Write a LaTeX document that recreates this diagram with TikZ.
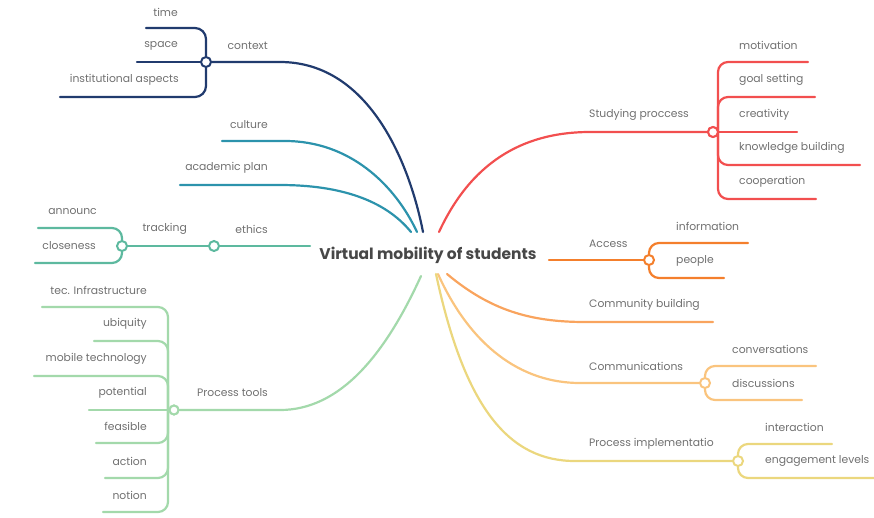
\documentclass[tikz,border=0pt]{standalone}
\usepackage{fontspec}
\setmainfont{Poppins}
\begin{document}
\begin{tikzpicture}[x=1pt,y=-1pt,
  lbl/.style={font=\fontsize{10.8}{12}\selectfont, text=txtgray, inner sep=0pt},
  br/.style={line width=2.2pt, line cap=round},
  hub/.style={circle, draw, fill=white, line width=2pt, minimum size=10pt, inner sep=0pt}]
\definecolor{txtgray}{HTML}{707070}
\definecolor{cnavy}{HTML}{213B6E}
\definecolor{cteal}{HTML}{2C93AC}
\definecolor{csea}{HTML}{5DB99F}
\definecolor{cgreen}{HTML}{A3D9AB}
\definecolor{cred}{HTML}{F24F4F}
\definecolor{corange}{HTML}{F47F2C}
\definecolor{corange2}{HTML}{F9A45E}
\definecolor{corange3}{HTML}{FAC47E}
\definecolor{cyellow}{HTML}{EBD77E}
\useasboundingbox (0,0) rectangle (874,517);

% center
\node[font=\fontsize{15.5}{17}\selectfont\bfseries, text=black!72, inner sep=0pt] (center) at (428,255) {Virtual mobility of students};

% ---------------- context
\node[hub, draw=cnavy] (ctx) at (206,62) {};
\coordinate (ctxs) at (423,232);
\draw[br, cnavy] (ctxs) .. controls (410,165) and (370,62) .. (280,62) -- (ctx);
\node[lbl, anchor=east] (ctxl) at (268,46) {context};
\coordinate (t1) at (146,28);
\coordinate (t2) at (137,62);
\coordinate (t3) at (60,97);
\draw[br, cnavy, rounded corners=11pt] (t1) -| (ctx.north);
\draw[br, cnavy] (t2) -- (ctx.west);
\draw[br, cnavy, rounded corners=11pt] (t3) -| (ctx.south);
\node[lbl, anchor=east] (t1l) at (178,12) {time};
\node[lbl, anchor=east] (t2l) at (178,46) {space};
\node[lbl, anchor=east] (t3l) at (179,80) {institutional aspects};

% ---------------- culture, academic plan
\coordinate (cus) at (417,232);
\coordinate (cu) at (222,141);
\draw[br, cteal] (cus) .. controls (395,185) and (350,141) .. (285,141) -- (cu);
\node[lbl, anchor=east] (cul) at (268,125) {culture};
\coordinate (aps) at (411,232);
\coordinate (ap) at (180,185);
\draw[br, cteal] (aps) .. controls (385,200) and (340,185) .. (280,185) -- (ap);
\node[lbl, anchor=east] (apl) at (268,168) {academic plan};

% ---------------- ethics
\coordinate (eths) at (310,246);
\node[hub, draw=csea] (eth) at (214,246) {};
\node[hub, draw=csea] (trk) at (122,246) {};
\draw[br, csea] (eths) -- (eth) -- (trk);
\node[lbl, anchor=east] (ethl) at (268,229) {ethics};
\node[lbl, anchor=east] (trkl) at (187,229) {tracking};
\coordinate (an) at (38,228);
\coordinate (cl) at (35,263);
\draw[br, csea, rounded corners=10pt] (an) -| (trk.north);
\draw[br, csea, rounded corners=10pt] (cl) -| (trk.south);
\node[lbl, anchor=east] (anl) at (97,212) {announc};
\node[lbl, anchor=east] (cll) at (96,246) {closeness};

% ---------------- process tools
\node[hub, draw=cgreen, minimum size=9pt] (pt) at (174,410) {};
\coordinate (pts) at (421,276);
\draw[br, cgreen] (pts) .. controls (385,355) and (340,410) .. (280,410) -- (pt);
\node[lbl, anchor=east] (ptl) at (268,393) {Process tools};
\coordinate (sp) at (168,410);
\foreach \n/\xa/\ya/\txt in {p1/42/307/tec. Infrastructure, p2/94/341/ubiquity, p3/34/376/mobile technology, p5/96/443/feasible, p6/105/478/action, p7/103/512/notion}{
  \coordinate (\n) at (\xa,\ya);
  \draw[br, cgreen, rounded corners=10pt] (\n) -| (sp);
  \node[lbl, anchor=east] (\n l) at (147,\ya-17) {\txt};
}
\coordinate (p4) at (89,410);
\draw[br, cgreen] (p4) -- (pt);
\node[lbl, anchor=east] (p4l) at (147,393) {potential};
\node[hub, draw=cgreen, minimum size=9pt] at (pt) {};

% ---------------- studying process
\node[hub, draw=cred] (st) at (713,132) {};
\coordinate (sts) at (439,232);
\draw[br, cred] (sts) .. controls (470,165) and (520,132) .. (590,132) -- (st);
\node[lbl, anchor=west] (stl) at (589,115) {Studying proccess};
\coordinate (ssp) at (718,132);
\foreach \n/\xb/\ya/\txt in {s1/808/62/motivation, s2/815/97/goal setting, s4/860/165/knowledge building, s5/816/199/cooperation}{
  \coordinate (\n) at (\xb,\ya);
  \draw[br, cred, rounded corners=10pt] (\n) -| (ssp);
  \node[lbl, anchor=west] (\n l) at (739,\ya-17) {\txt};
}
\coordinate (s3) at (797,132);
\draw[br, cred] (s3) -- (st);
\node[lbl, anchor=west] (s3l) at (739,115) {creativity};
\node[hub, draw=cred] at (st) {};

% ---------------- access
\node[hub, draw=corange] (ac) at (649,260) {};
\coordinate (acs) at (549,260);
\draw[br, corange] (acs) -- (ac);
\node[lbl, anchor=west] (acl) at (589,244) {Access};
\coordinate (a1) at (748,243);
\coordinate (a2) at (724,278);
\draw[br, corange, rounded corners=10pt] (a1) -| (ac.north);
\draw[br, corange, rounded corners=10pt] (a2) -| (ac.south);
\node[lbl, anchor=west] (a1l) at (676,226) {information};
\node[lbl, anchor=west] (a2l) at (676,261) {people};

% ---------------- community building
\coordinate (cbs) at (447,274);
\coordinate (cb) at (713,322);
\draw[br, corange2] (cbs) .. controls (490,310) and (530,322) .. (585,322) -- (cb);
\node[lbl, anchor=west] (cbl) at (589,305) {Community building};

% ---------------- communications
\node[hub, draw=corange3] (cm) at (705,383) {};
\coordinate (cms) at (438,274);
\draw[br, corange3] (cms) .. controls (470,345) and (520,383) .. (580,383) -- (cm);
\node[lbl, anchor=west] (cml) at (589,366) {Communications};
\coordinate (c1) at (816,366);
\coordinate (c2) at (802,400);
\draw[br, corange3, rounded corners=10pt] (c1) -| (cm.north);
\draw[br, corange3, rounded corners=10pt] (c2) -| (cm.south);
\node[lbl, anchor=west] (c1l) at (732,349) {conversations};
\node[lbl, anchor=west] (c2l) at (732,383) {discussions};

% ---------------- process implementation
\node[hub, draw=cyellow] (pi) at (738,461) {};
\coordinate (pis) at (436,274);
\draw[br, cyellow] (pis) .. controls (465,410) and (510,461) .. (575,461) -- (pi);
\node[lbl, anchor=west] (pil) at (589,444) {Process implementatio};
\coordinate (i1) at (832,444);
\coordinate (i2) at (874,478);
\draw[br, cyellow, rounded corners=10pt] (i1) -| (pi.north);
\draw[br, cyellow, rounded corners=10pt] (i2) -| (pi.south);
\node[lbl, anchor=west] (i1l) at (765,427) {interaction};
\node[lbl, anchor=west] (i2l) at (765,461) {engagement levels};
\end{tikzpicture}
\end{document}
